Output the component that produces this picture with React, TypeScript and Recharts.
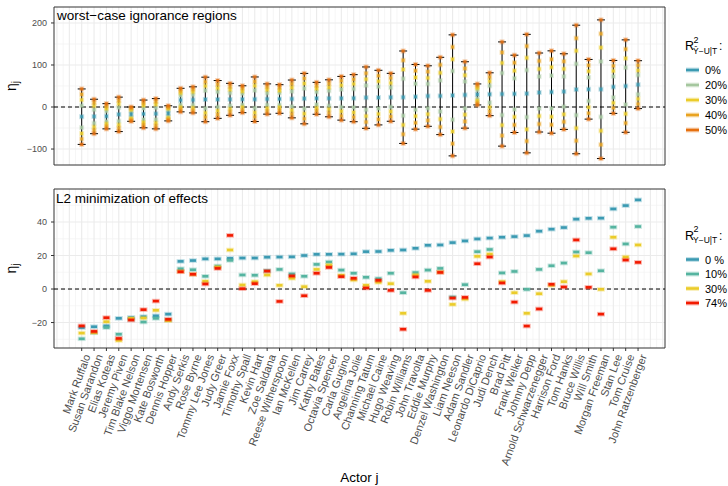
import React from 'react'
import {
  ComposedChart,
  Scatter,
  XAxis,
  YAxis,
  CartesianGrid,
  ReferenceLine,
  ReferenceArea,
  ErrorBar,
} from 'recharts'

const actors = [
  'Mark Ruffalo', 'Susan Sarandon', 'Elias Koteas', 'Jeremy Piven', 'Tim Blake Nelson',
  'Viggo Mortensen', 'Kate Bosworth', 'Dennis Hopper', 'Andy Serkis', 'Rose Byrne',
  'Tommy Lee Jones', 'Judy Greer', 'Jamie Foxx', 'Timothy Spall', 'Kevin Hart',
  'Zoe Saldana', 'Reese Witherspoon', 'Ian McKellen', 'Jim Carrey', 'Kathy Bates',
  'Octavia Spencer', 'Carla Gugino', 'Angelina Jolie', 'Channing Tatum', 'Michael Caine',
  'Hugo Weaving', 'Robin Williams', 'John Travolta', 'Eddie Murphy', 'Denzel Washington',
  'Liam Neeson', 'Adam Sandler', 'Leonardo DiCaprio', 'Judi Dench', 'Brad Pitt',
  'Frank Welker', 'Johnny Depp', 'Arnold Schwarzenegger', 'Harrison Ford', 'Tom Hanks',
  'Bruce Willis', 'Will Smith', 'Morgan Freeman', 'Stan Lee', 'Tom Cruise',
  'John Ratzenberger',
]

// estimate at R2 = 0 (centre of the ignorance regions too)
const eta0 = [
  -23, -22.5, -22, -17.5, -17, -16.5, -16, -15, 16.5, 17, 18, 18, 18.3, 18.5, 18.5, 19,
  19.1, 19.2, 20, 20.7, 20.7, 20.8, 21, 22.3, 22.4, 23.1, 23.3, 24.3, 26.1, 26.3, 27.7,
  28.7, 29.9, 30.4, 30.9, 31.3, 31.9, 34.5, 35.7, 36.7, 41.7, 42.2, 42.3, 47.8, 49.8, 53.2,
]

// half widths of the worst-case regions
const hw20 = [26, 16, 12, 16, 7, 13, 14, 7, 11, 12, 21, 18, 15, 13, 21, 14, 14, 18, 24, 15, 18, 21, 22, 29, 26, 23, 44, 31, 29, 37, 58, 32, 10, 20, 50, 37, 56, 38, 39, 36, 61, 28, 66, 25, 44, 23]
const hw30 = [40, 25, 18, 25, 10, 20, 22, 11, 17, 19, 32, 27, 23, 19, 32, 22, 20, 27, 36, 23, 26, 31, 34, 44, 39, 34, 66, 46, 43, 55, 86, 47, 15, 31, 74, 55, 85, 56, 59, 54, 92, 43, 99, 38, 66, 34]
const hw40 = [53, 33, 24, 33, 14, 26, 29, 14, 22, 25, 42, 36, 30, 26, 42, 29, 27, 36, 48, 30, 35, 42, 45, 58, 52, 46, 88, 62, 58, 74, 115, 63, 20, 41, 99, 74, 113, 75, 78, 72, 122, 57, 132, 50, 88, 46]
const hw50 = [66, 41, 30, 41, 17, 33, 36, 18, 28, 31, 53, 45, 38, 32, 53, 36, 34, 45, 60, 38, 44, 52, 56, 73, 65, 57, 110, 77, 72, 92, 144, 79, 25, 51, 124, 92, 141, 94, 98, 90, 153, 71, 165, 63, 110, 57]

// L2 minimization estimates
const eta10 = [
  -29.7, -26.1, -23, -27, -18.1, -19.7, -17.5, -18.5, 12.1, 11.5, 7.6, 13.7, 17.1, 8.4, 8.2,
  10.9, 11.7, 9, 7.6, 14.7, 16.1, 11.3, 9.4, 7, 6.2, 9.4, -2.2, 9.8, 11.3, 12.3, -4.8, 2.6,
  22.3, 23.6, 9.6, 10.5, -0.2, 11.7, 13.9, 15.5, 22.1, 21.7, 10.9, 36.9, 26.9, 37.3,
]
const eta30 = [
  -26.3, -26, -19.5, -30.7, -17.5, -17.3, -12.7, -18.9, 10.5, 8.8, 4.6, 13.1, 23.3, 2.4, 4.4,
  8.4, 2.2, 6.4, 1.4, 11.7, 14.3, 8.2, 5.4, 2.2, 4, 3.2, -14.5, 8.4, 4.6, 10.1, -9.2, -6,
  19.5, 20.8, 4.4, -2.2, -14.5, -2.8, 2.2, 4.4, 19.7, 9, -0.2, 30.9, 19.1, 26.3,
]
const eta74 = [
  -22, -25.3, -17.1, -29.5, -18.5, -12.3, -7.2, -18.1, 10.3, 8.8, 3, 12.3, 32, 0.2, 3.2,
  10.7, -7.4, 7.8, -4, 9.4, 12.9, 7.4, 6.4, 0.6, 5.2, -0.8, -24, 7.2, -0.8, 9.9, -5.4, -5,
  15.1, 19.1, 3.6, -7.8, -22.1, -11.9, 2.8, 1.2, 29.3, 1, -15, 24, 17.3, 15.9,
]

const topTicks = [-100, 0, 100, 200]
const topMinor = [-50, 50, 150]
const botTicks = [-20, 0, 20, 40]
const botMinor = [-30, -10, 10, 30, 50]

const topLevels = ['0%', '20%', '30%', '40%', '50%']
const topColors = ['#3B9AB2', '#A5C79F', '#EBCC2A', '#E9A321', '#E6700F']
const botLevels = ['0 %', '10%', '30%', '74%']
const botColors = ['#3B9AB2', '#55B4A0', '#EBCC2A', '#F21A00']

const X_DOMAIN: [number, number] = [-2.24, 47.18]
const TOP_DOMAIN: [number, number] = [-138, 238]
const BOT_DOMAIN: [number, number] = [-35.2, 59.7]

const FONT = '"Liberation Sans", Arial, Helvetica, sans-serif'

// vertical grid: every half step across the panel
const gridInt: number[] = []
const gridHalf: number[] = []
for (let v = -2; v <= 47; v++) {
  gridInt.push(v)
  gridHalf.push(v + 0.5)
}

const callScale = (s: any, v: number) =>
  typeof s === 'function' ? s(v) : s && typeof s.map === 'function' ? s.map(v) : NaN

const xGen = (vals: number[]) => ({ xAxis }: any) =>
  xAxis ? vals.map((v) => callScale(xAxis.scale, v)).filter((c) => Number.isFinite(c)) : []
const yGen = (vals: number[]) => ({ yAxis }: any) =>
  yAxis ? vals.map((v) => callScale(yAxis.scale, v)).filter((c) => Number.isFinite(c)) : []

const fmt = (v: number) => (v < 0 ? `\u2212${-v}` : `${v}`)

const centre = actors.map((_, i) => ({ x: i, y: eta0[i], e: hw50[i] }))
const band = (hw: number[]) =>
  actors.flatMap((_, i) => [
    { x: i, y: eta0[i] - hw[i] },
    { x: i, y: eta0[i] + hw[i] },
  ])
const topBands = [hw20, hw30, hw40, hw50].map(band)
const botSeries = [eta0, eta10, eta30, eta74].map((arr) => arr.map((v, i) => ({ x: i, y: v })))

const square = (color: string) => (p: any) => {
  const { cx, cy } = p
  if (cx == null || cy == null) return <g />
  return (
    <g>
      <rect x={cx - 2.5} y={cy - 2.5} width={5} height={5} fill={color} fillOpacity={0.3} />
      <rect x={cx - 1.5} y={cy - 1.5} width={3} height={3} fill={color} fillOpacity={0.85} />
    </g>
  )
}

const dash = (color: string) => (p: any) => {
  const { cx, cy } = p
  if (cx == null || cy == null) return <g />
  return (
    <g>
      <rect x={cx - 4} y={cy - 2.3} width={8} height={4.6} fill={color} fillOpacity={0.3} />
      <rect x={cx - 3} y={cy - 1.3} width={6} height={2.6} fill={color} />
    </g>
  )
}

const ActorTick = (p: any) => {
  const { x, y, payload } = p
  const name = actors[payload.value] ?? ''
  const tx = x + 9
  const ty = y + 3
  return (
    <text
      x={tx}
      y={ty}
      textAnchor="end"
      transform={`rotate(-70 ${tx} ${ty})`}
      fontSize={11}
      fill="#4d4d4d"
      fontFamily={FONT}
    >
      {name}
    </text>
  )
}

const yTick = { fontSize: 9, fill: '#4d4d4d', fontFamily: FONT }

const LegendBlock = ({ top, hat, levels, colors }: any) => (
  <g fontFamily={FONT}>
    <text x={685} y={top} fontSize={12.5} fill="#000">R</text>
    <text x={693.5} y={top - 7.5} fontSize={9} fill="#000">2</text>
    <text x={693} y={top + 3.5} fontSize={8.5} fill="#000">{hat ? '\u0176\u2212U|T' : 'Y\u2212U|T'}</text>
    <text x={719} y={top} fontSize={12} fill="#000">:</text>
    {levels.map((lab: string, i: number) => {
      const ry = top + 20 + i * (hat ? 15 : 14.5)
      return (
        <g key={lab}>
          <line x1={686} x2={699} y1={ry} y2={ry} stroke={colors[i]} strokeWidth={5} strokeOpacity={0.3} />
          <line x1={686} x2={699} y1={ry} y2={ry} stroke={colors[i]} strokeWidth={2.6} />
          <text x={705} y={ry + 4} fontSize={11} fill="#000">{lab}</text>
        </g>
      )
    })}
  </g>
)

export default function App() {
  return (
    <div
      style={{
        position: 'absolute',
        left: 0,
        top: 0,
        width: 728,
        height: 486,
        background: '#fff',
        fontFamily: FONT,
      }}
    >
      <div style={{ position: 'absolute', left: 0, top: 0 }}>
        <ComposedChart width={728} height={172} margin={{ top: 7, right: 63, bottom: 7, left: 24 }}>
          <CartesianGrid
            stroke="#f2f2f2"
            strokeWidth={0.7}
            horizontalCoordinatesGenerator={yGen(topMinor)}
            verticalCoordinatesGenerator={xGen(gridHalf)}
          />
          <CartesianGrid
            stroke="#ebebeb"
            strokeWidth={1.1}
            horizontalCoordinatesGenerator={yGen(topTicks)}
            verticalCoordinatesGenerator={xGen(gridInt)}
          />
          <XAxis type="number" dataKey="x" domain={X_DOMAIN} allowDataOverflow hide />
          <YAxis
            type="number"
            domain={TOP_DOMAIN}
            allowDataOverflow
            ticks={topTicks}
            interval={0}
            width={30}
            tickSize={3}
            tickMargin={4}
            axisLine={false}
            tickLine={{ stroke: '#333' }}
            tick={yTick}
            tickFormatter={fmt}
          />
          <ReferenceLine y={0} stroke="#000" strokeDasharray="4 3" />
          {topBands.map((d, k) => (
            <Scatter key={k} data={d} dataKey="y" shape={square(topColors[k + 1])} isAnimationActive={false} />
          ))}
          <Scatter data={centre} dataKey="y" shape={square(topColors[0])} isAnimationActive={false}>
            <ErrorBar dataKey="e" direction="y" width={4} stroke="#000" strokeWidth={1} isAnimationActive={false} />
          </Scatter>
          <ReferenceArea
            x1={X_DOMAIN[0]}
            x2={X_DOMAIN[1]}
            y1={TOP_DOMAIN[0]}
            y2={TOP_DOMAIN[1]}
            fill="none"
            fillOpacity={0}
            stroke="#333"
            strokeWidth={1}
          />
        </ComposedChart>
      </div>

      <div style={{ position: 'absolute', left: 0, top: 180 }}>
        <ComposedChart width={728} height={306} margin={{ top: 9, right: 63, bottom: 0, left: 24 }}>
          <CartesianGrid
            stroke="#f2f2f2"
            strokeWidth={0.7}
            horizontalCoordinatesGenerator={yGen(botMinor)}
            verticalCoordinatesGenerator={xGen(gridHalf)}
          />
          <CartesianGrid
            stroke="#ebebeb"
            strokeWidth={1.1}
            horizontalCoordinatesGenerator={yGen(botTicks)}
            verticalCoordinatesGenerator={xGen(gridInt)}
          />
          <XAxis
            type="number"
            dataKey="x"
            domain={X_DOMAIN}
            allowDataOverflow
            ticks={actors.map((_, i) => i)}
            interval={0}
            height={138}
            tickSize={3}
            tickMargin={2}
            axisLine={false}
            tickLine={{ stroke: '#333' }}
            tick={(p: any) => <ActorTick {...p} />}
          />
          <YAxis
            type="number"
            domain={BOT_DOMAIN}
            allowDataOverflow
            ticks={botTicks}
            interval={0}
            width={30}
            tickSize={3}
            tickMargin={4}
            axisLine={false}
            tickLine={{ stroke: '#333' }}
            tick={yTick}
            tickFormatter={fmt}
          />
          <ReferenceLine y={0} stroke="#000" strokeDasharray="4 3" />
          {botSeries.map((d, k) => (
            <Scatter key={k} data={d} dataKey="y" shape={dash(botColors[k])} isAnimationActive={false} />
          ))}
          <ReferenceArea
            x1={X_DOMAIN[0]}
            x2={X_DOMAIN[1]}
            y1={BOT_DOMAIN[0]}
            y2={BOT_DOMAIN[1]}
            fill="none"
            fillOpacity={0}
            stroke="#333"
            strokeWidth={1}
          />
        </ComposedChart>
      </div>

      <svg
        width={728}
        height={486}
        style={{ position: 'absolute', left: 0, top: 0, pointerEvents: 'none' }}
      >
        <g fontFamily={FONT} fill="#000">
          <text x={57} y={20} fontSize={13.5}>worst{'\u2212'}case ignorance regions</text>
          <text x={56} y={202.5} fontSize={13.5}>L2 minimization of effects</text>
          <text transform="translate(16,86) rotate(-90)" textAnchor="middle" fontSize={14}>
            η<tspan fontSize={10} dy={3}>j</tspan>
          </text>
          <text transform="translate(16,268.5) rotate(-90)" textAnchor="middle" fontSize={14}>
            η<tspan fontSize={10} dy={3}>j</tspan>
          </text>
          <text x={359.5} y={482} textAnchor="middle" fontSize={13.5}>Actor j</text>
        </g>
        <LegendBlock top={50} hat levels={topLevels} colors={topColors} />
        <LegendBlock top={239.5} hat={false} levels={botLevels} colors={botColors} />
      </svg>
    </div>
  )
}
